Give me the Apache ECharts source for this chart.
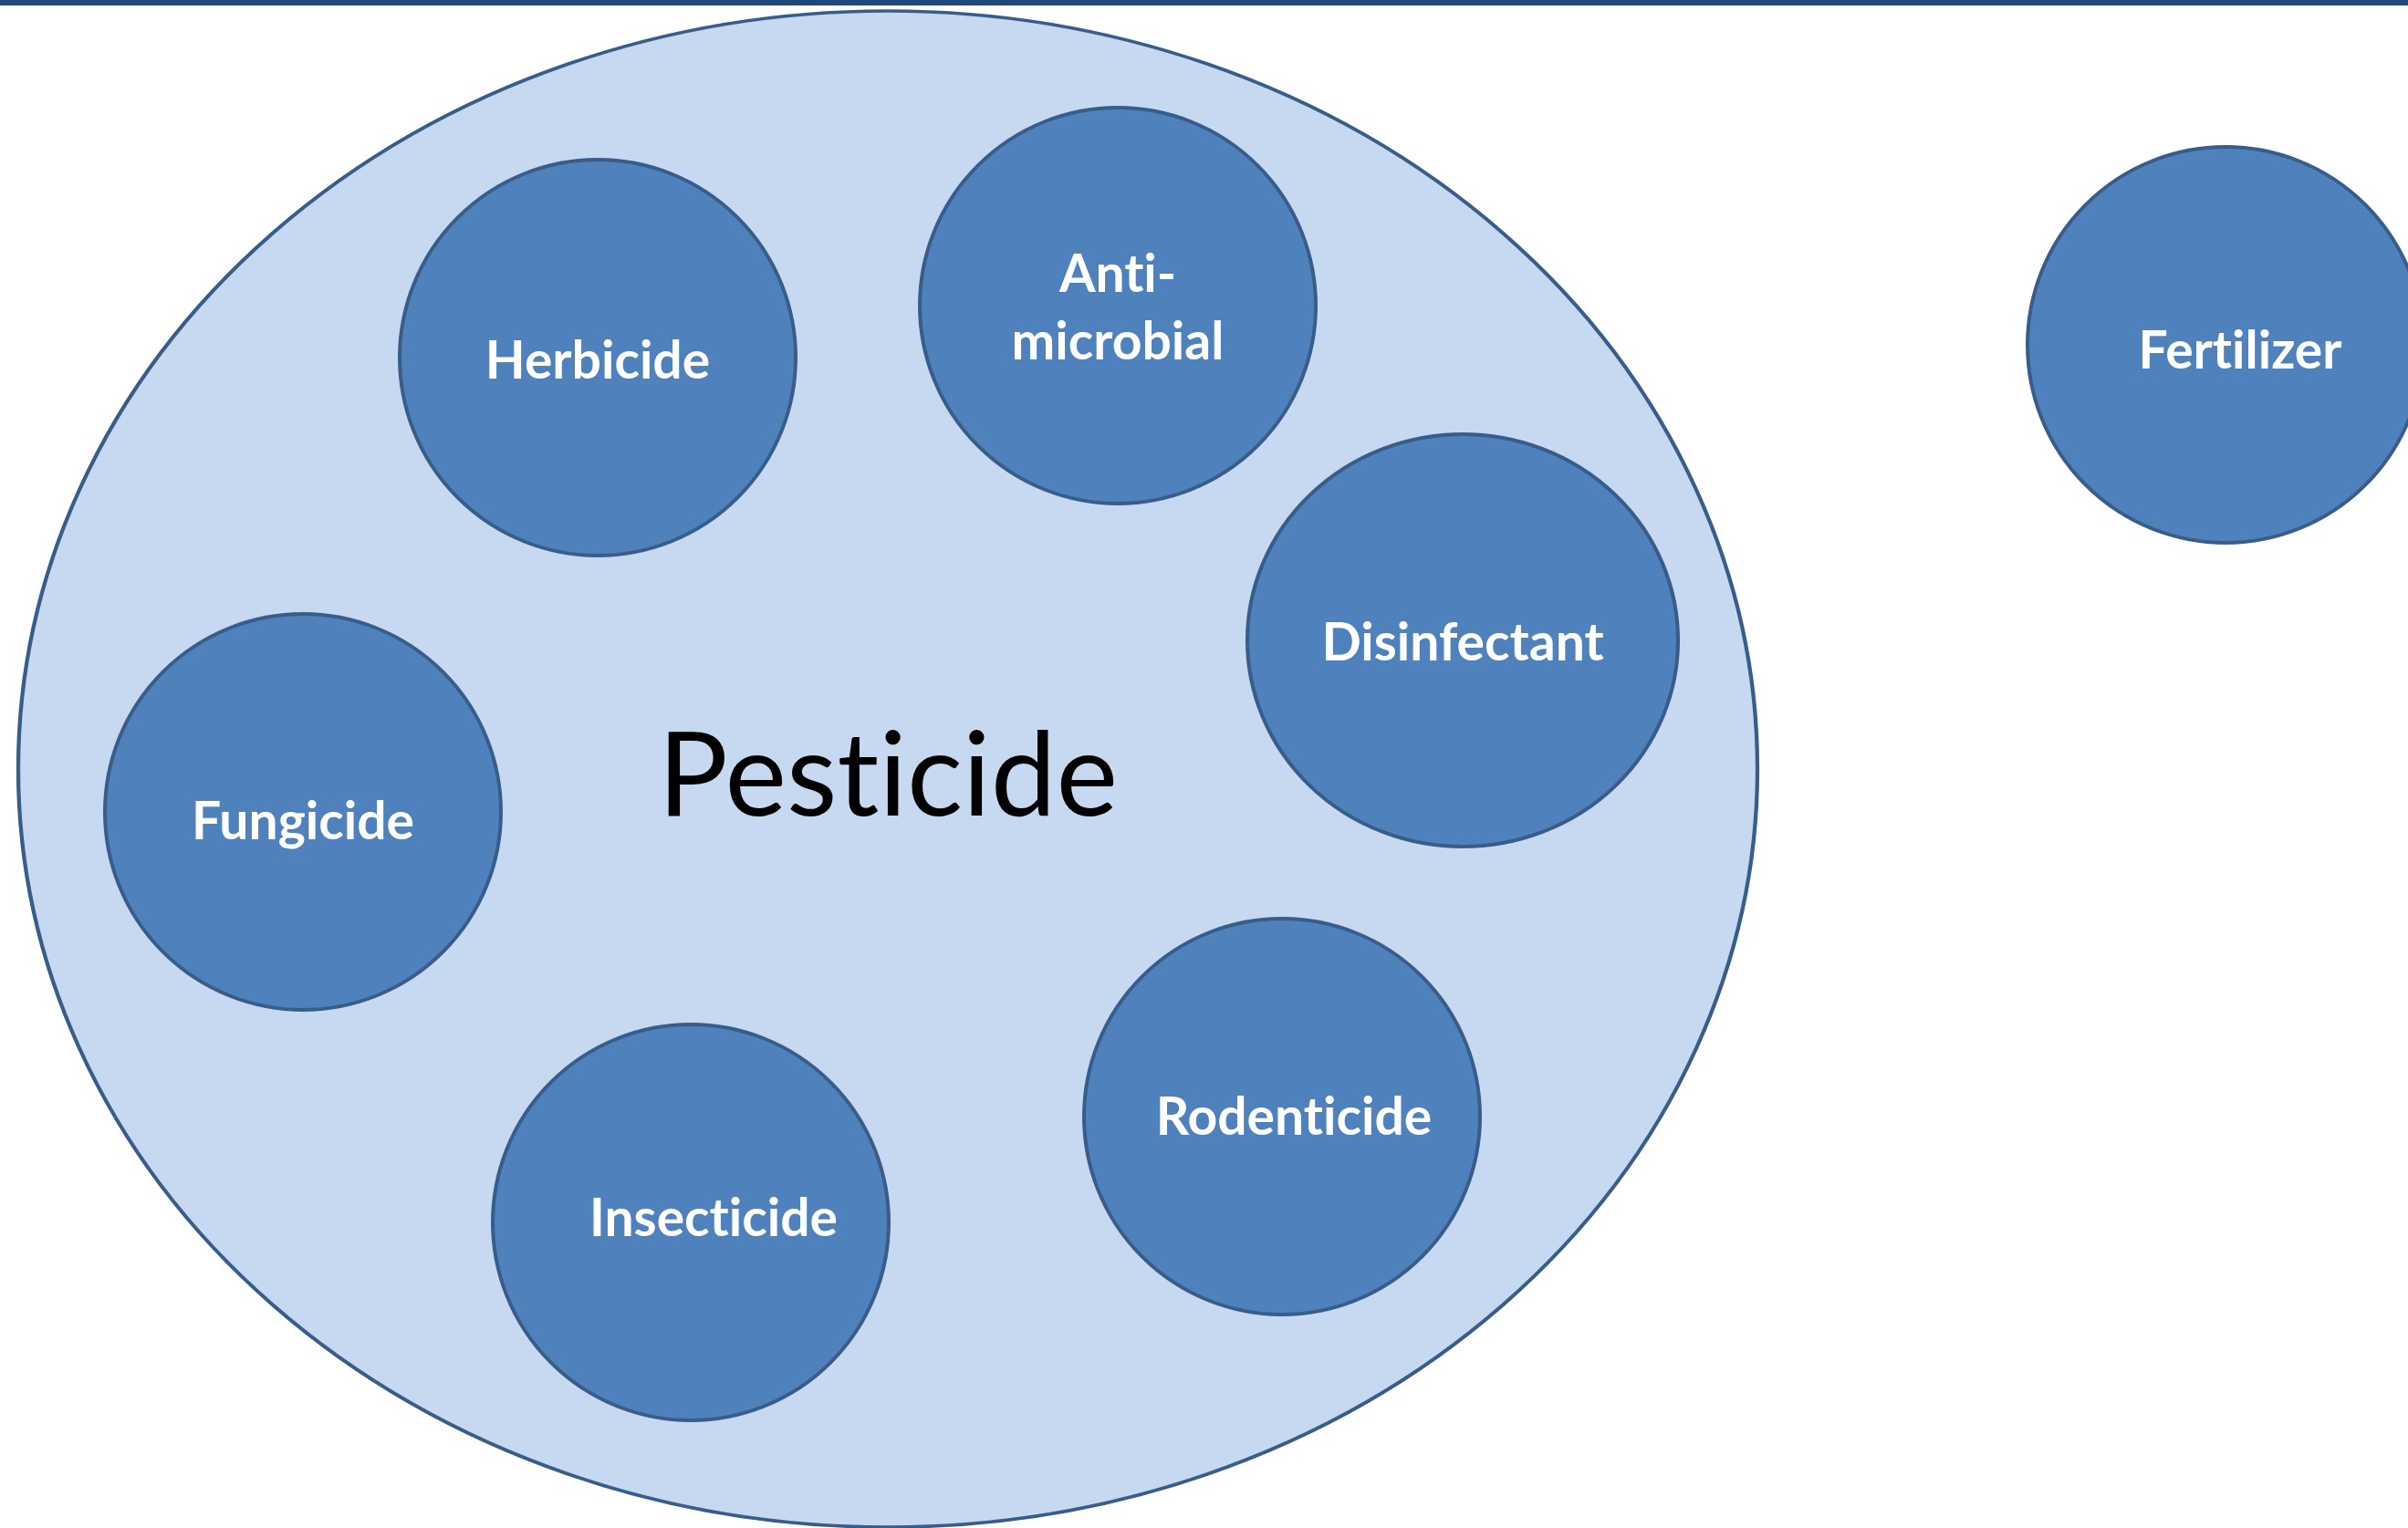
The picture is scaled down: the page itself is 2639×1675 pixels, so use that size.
<!DOCTYPE html>
<html lang="en">
<head>
    <meta charset="UTF-8">
    <title>Pesticide</title>
    <script src="https://cdn.jsdelivr.net/npm/echarts@6/dist/echarts.min.js"></script>
    <style>
        html, body { margin: 0; padding: 0; background: #fff; }
    </style>
</head>
<body>
<div id="main" style="width: 2639px; height: 1675px;"></div>
<script>
    // \u200C keeps the font from fusing "ti" into a ligature
    var NJ = '\u200C';

    // outer group (the big ellipse)
    var groupName = 'Pest' + NJ + 'icide';
    var groupCenter = [973, 843];
    var groupSize = [1906, 1662];

    // member circles, in the same coordinate space as the axes (0..2639 x 0..1675)
    var names = ['Herbicide', 'Ant' + NJ + 'i-\nmicrobial', 'Disinfectant', 'Fungicide',
                 'Insect' + NJ + 'icide', 'Rodent' + NJ + 'icide', 'Fert' + NJ + 'ilizer'];
    var centerX = [655, 1225, 1603, 332, 757, 1405, 2439];
    var centerY = [392, 335, 702, 890, 1340, 1224, 378];
    var diamX = [434, 434, 472, 434, 434, 434, 434];
    var diamY = [434, 434, 452, 434, 434, 434, 434];

    // text nudge inside each circle
    var labelShift = [[0, 5], [0, 4], [0, 4], [0, 12], [25, -3], [13, 2], [16, 8]];

    var circles = [];
    for (var i = 0; i < names.length; i++) {
        circles.push({
            name: names[i],
            value: [centerX[i], centerY[i]],
            symbolSize: [diamX[i], diamY[i]],
            label: { offset: labelShift[i] }
        });
    }

    var chart = echarts.init(document.getElementById('main'));
    chart.setOption({
        animation: false,
        grid: { left: 0, right: 0, top: 0, bottom: 0 },
        xAxis: { type: 'value', min: 0, max: 2639, show: false },
        yAxis: { type: 'value', min: 0, max: 1675, inverse: true, show: false },
        graphic: [{
            type: 'rect',
            shape: { x: 0, y: 0, width: 2639, height: 6 },
            style: { fill: '#1F497D' },
            z: 10
        }],
        series: [
            {
                type: 'scatter',
                silent: true,
                clip: false,
                z: 1,
                symbol: 'circle',
                data: [{ name: groupName, value: groupCenter, symbolSize: groupSize }],
                itemStyle: { color: '#C6D9F1', borderColor: '#385D8A', borderWidth: 4, opacity: 1 },
                label: {
                    show: true,
                    position: 'inside',
                    formatter: '{b}',
                    offset: [0, 10],
                    color: '#000',
                    fontFamily: 'Lato',
                    fontSize: 128
                }
            },
            {
                type: 'scatter',
                silent: true,
                clip: false,
                z: 2,
                symbol: 'circle',
                data: circles,
                itemStyle: { color: '#4F81BD', borderColor: '#385D8A', borderWidth: 4, opacity: 1 },
                label: {
                    show: true,
                    position: 'inside',
                    formatter: '{b}',
                    color: '#fff',
                    fontFamily: 'Lato',
                    fontWeight: 'bold',
                    fontSize: 57,
                    lineHeight: 74,
                    align: 'center'
                }
            }
        ]
    });
</script>
</body>
</html>
